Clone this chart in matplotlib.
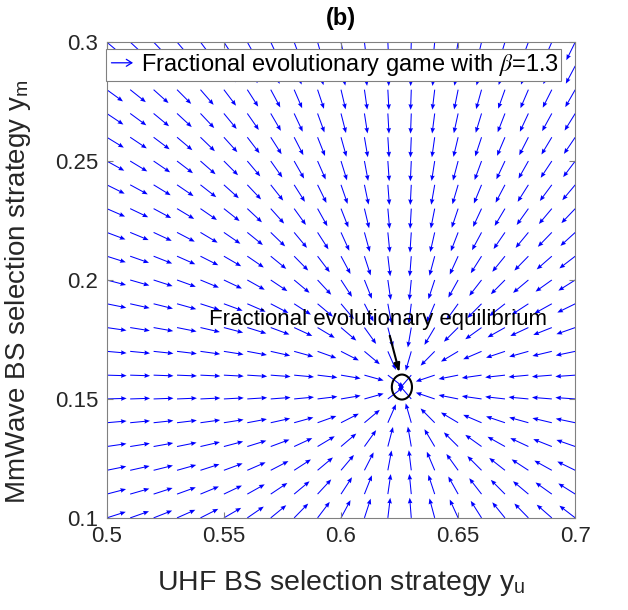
import numpy as np
import matplotlib
matplotlib.use("Agg")
import matplotlib.pyplot as plt
from matplotlib.patches import Ellipse, FancyArrowPatch
from matplotlib.legend_handler import HandlerBase

plt.rcParams['font.family'] = ['Liberation Sans', 'DejaVu Sans']
plt.rcParams['mathtext.fontset'] = 'stix'

# grid of strategies (UHF y_u, mmWave y_m)
yu_grid = [0.50, 0.51, 0.52, 0.53, 0.54, 0.55, 0.56, 0.57, 0.58, 0.59, 0.60,
           0.61, 0.62, 0.63, 0.64, 0.65, 0.66, 0.67, 0.68, 0.69, 0.70]
ym_grid = [0.10, 0.11, 0.12, 0.13, 0.14, 0.15, 0.16, 0.17, 0.18, 0.19, 0.20,
           0.21, 0.22, 0.23, 0.24, 0.25, 0.26, 0.27, 0.28, 0.29, 0.30]

# equilibrium point
eq_yu = 0.626
eq_ym = 0.155

# relative weight of the y_m component, by column (left -> right)
ym_weight = [0.72, 0.73, 0.75, 0.76, 0.78, 0.79, 0.81, 0.82, 0.84, 0.85, 0.87,
             0.88, 0.90, 0.91, 0.93, 0.94, 0.96, 0.97, 0.99, 1.00, 1.02]

arrow_len = 0.0085

X, Y = np.meshgrid(yu_grid, ym_grid)
W = np.tile(ym_weight, (len(ym_grid), 1))
U = eq_yu - X
V = (eq_ym - Y) * W
mag = np.hypot(U, V)
mag[mag == 0] = 1
U = U / mag * arrow_len
V = V / mag * arrow_len


class ArrowHandler(HandlerBase):
    def create_artists(self, legend, orig_handle, xdescent, ydescent,
                       width, height, fontsize, trans):
        a = FancyArrowPatch((-xdescent, height / 2), (width - xdescent, height / 2),
                            arrowstyle='->,head_length=4,head_width=2.5',
                            color='blue', lw=0.9, transform=trans)
        return [a]


fig = plt.figure(figsize=(6.28, 6.10), dpi=100)
ax = fig.add_axes([0.170, 0.151, 0.746, 0.780])

q = ax.quiver(X, Y, U, V, angles='xy', scale_units='xy', scale=1, pivot='tail',
              color='blue', width=0.0022, headwidth=4.5, headlength=5.5,
              headaxislength=5)

# equilibrium marker
ax.add_patch(Ellipse((eq_yu, eq_ym), 0.0086, 0.0105, fill=False, ec='black', lw=1.5))
ax.text(0.6158, 0.1832, 'Fractional evolutionary equilibrium', ha='center', va='center',
        fontsize=16)
ax.annotate('', xy=(0.6252, 0.1601), xytext=(0.6205, 0.1777),
            arrowprops=dict(arrowstyle='-|>,head_length=0.5,head_width=0.18',
                            color='black', lw=1.5))

ax.set_xlim(0.5, 0.7)
ax.set_ylim(0.1, 0.3)
ax.set_xticks([0.5, 0.55, 0.6, 0.65, 0.7])
ax.set_xticklabels(['0.5', '0.55', '0.6', '0.65', '0.7'])
ax.set_yticks([0.1, 0.15, 0.2, 0.25, 0.3])
ax.set_yticklabels(['0.1', '0.15', '0.2', '0.25', '0.3'])
ax.tick_params(direction='in', top=True, right=True, labelsize=16, length=4,
               color='#808080', labelcolor='#262626', pad=6)
for s in ax.spines.values():
    s.set_color('#808080')
    s.set_linewidth(0.8)

ax.set_xlabel(r'UHF BS selection strategy y$_\mathregular{u}$', fontsize=20.5, color='#262626')
ax.set_ylabel(r'MmWave BS selection strategy y$_\mathregular{m}$', fontsize=20, color='#262626')
ax.xaxis.set_label_coords(0.5, -0.105)
ax.yaxis.set_label_coords(-0.158, 0.475)
fig.text(341 / 628, 1 - 18 / 610, '(b)', fontsize=17, fontweight='bold',
         ha='center', va='center')

leg = ax.legend([q], [r'Fractional evolutionary game with $\beta$=1.3'],
                handler_map={type(q): ArrowHandler()},
                loc='upper left', bbox_to_anchor=(-0.002, 0.985), fontsize=17,
                frameon=True, fancybox=False, edgecolor='#808080', framealpha=1,
                handlelength=1.15, handletextpad=0.2, borderpad=0.12,
                borderaxespad=0.0)
leg.get_frame().set_linewidth(0.8)

fig.savefig('out.png', dpi=100)
